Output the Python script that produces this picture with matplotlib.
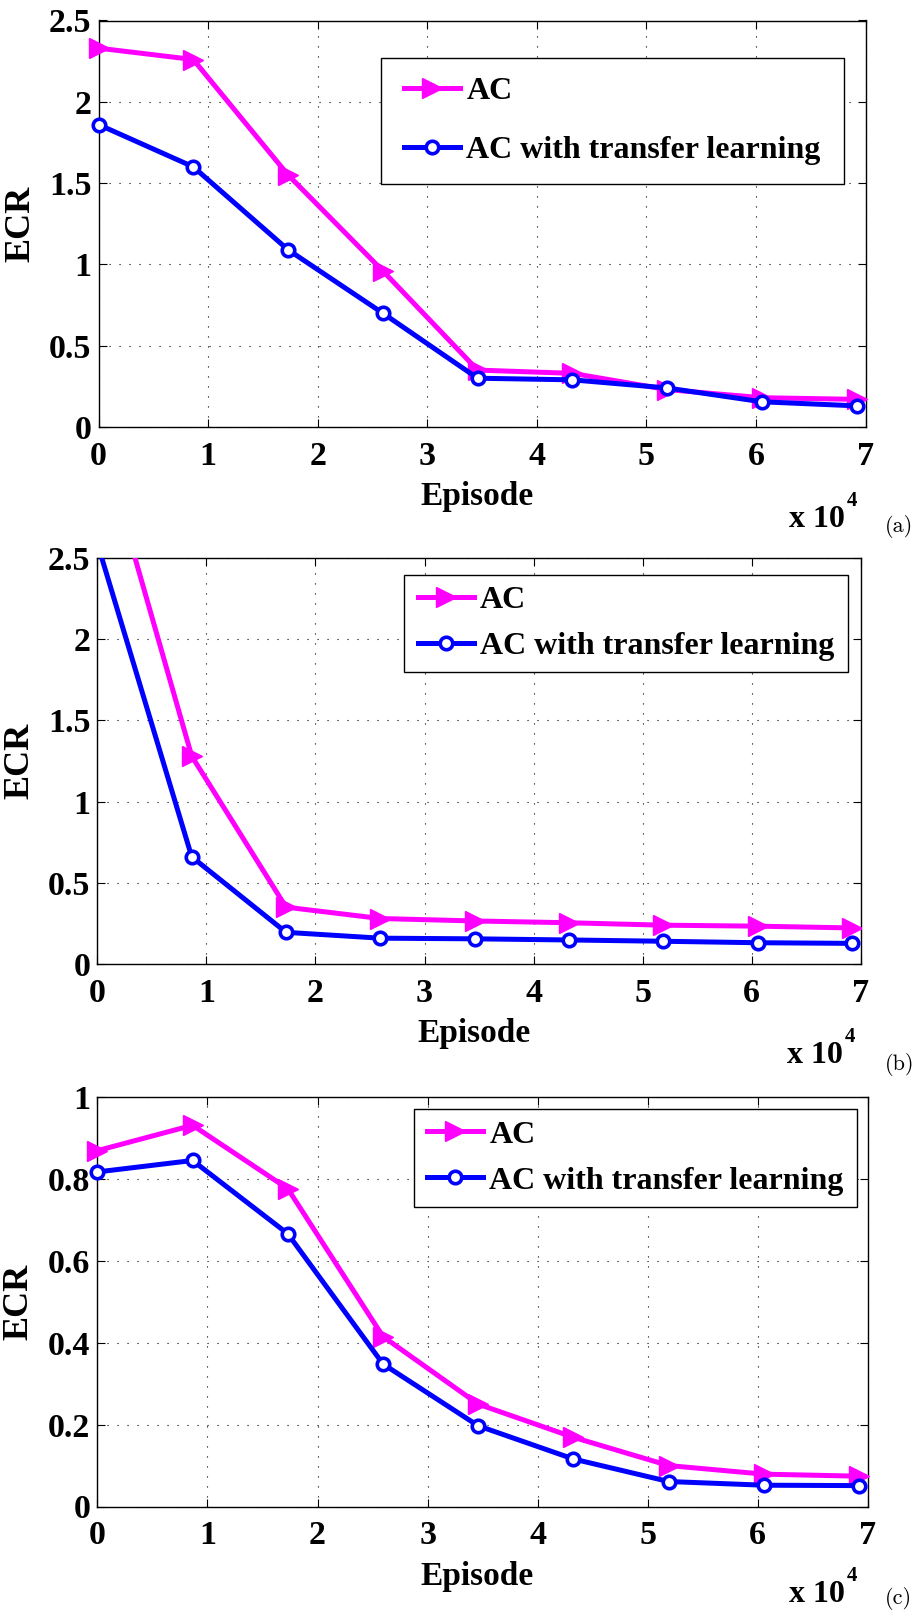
import numpy as np
import matplotlib
matplotlib.use("Agg")
import matplotlib.pyplot as plt
from matplotlib import font_manager

# Episodes (x axis shown in units of 10^4)
episodes = [0, 8650, 17300, 25950, 34600, 43250, 51900, 60550, 69200]

# ECR values
ecr_ac_a = [2.33, 2.26, 1.55, 0.96, 0.35, 0.33, 0.23, 0.18, 0.17]
ecr_tl_a = [1.86, 1.60, 1.09, 0.70, 0.30, 0.29, 0.24, 0.155, 0.13]
ecr_ac_b = [3.31, 1.28, 0.35, 0.28, 0.265, 0.254, 0.239, 0.233, 0.222]
ecr_tl_b = [2.59, 0.66, 0.195, 0.159, 0.155, 0.148, 0.14, 0.131, 0.127]
ecr_ac_c = [0.869, 0.931, 0.776, 0.415, 0.25, 0.169, 0.10, 0.079, 0.074]
ecr_tl_c = [0.817, 0.845, 0.666, 0.348, 0.197, 0.116, 0.061, 0.052, 0.051]

series_names = ["AC", "AC with transfer learning"]
panel_tags = ["(a)", "(b)", "(c)"]

xticks = [0, 1, 2, 3, 4, 5, 6, 7]
yticks_ab = [0, 0.5, 1, 1.5, 2, 2.5]
yticklabels_ab = ["0", "0.5", "1", "1.5", "2", "2.5"]
yticks_c = [0, 0.2, 0.4, 0.6, 0.8, 1]
yticklabels_c = ["0", "0.2", "0.4", "0.6", "0.8", "1"]

W, H = 923, 1621
DPI = 100
fig = plt.figure(figsize=(W / DPI, H / DPI), dpi=DPI)

# pick a Times-like serif that is actually installed
names = {f.name for f in font_manager.fontManager.ttflist}
font = "DejaVu Serif"
for cand in ["Liberation Serif", "Times New Roman", "Nimbus Roman", "DejaVu Serif"]:
    if cand in names:
        font = cand
        break

LEG_FS = 23


def px(x, y):
    # pixel position (from top-left) -> figure fraction
    return x / W, 1 - y / H


# axes boxes in pixels: left, top, right, bottom
boxes = [(98.5, 20.5, 865.5, 427), (97.4, 558, 860.7, 964), (97.4, 1097, 867.8, 1506.5)]
# legend frames in pixels: left, top, right, bottom
legend_boxes = [(381, 58, 844, 183.5), (404, 575, 848, 672), (414, 1109, 857, 1206.7)]
legend_spacing = [0.92, 0.54, 0.52]
data = [(ecr_ac_a, ecr_tl_a), (ecr_ac_b, ecr_tl_b), (ecr_ac_c, ecr_tl_c)]
ylims = [(0, 2.5), (0, 2.5), (0, 1)]
yticks = [yticks_ab, yticks_ab, yticks_c]
ytlabels = [yticklabels_ab, yticklabels_ab, yticklabels_c]
clip = [False, True, False]

x = np.array(episodes) / 1e4
axes, legends = [], []

for i in range(3):
    l, t, r, b = boxes[i]
    ax = fig.add_axes([l / W, 1 - b / H, (r - l) / W, (b - t) / H])
    ac, tl = data[i]
    ax.plot(x, ac, color="#FF00FF", lw=3.6, marker=">", ms=15, mew=1,
            label=series_names[0], clip_on=clip[i], zorder=3)
    ax.plot(x, tl, color="#0000FF", lw=3.6, marker="o", ms=9, mew=2.6,
            mfc="white", label=series_names[1], clip_on=clip[i], zorder=4)

    ax.set_xlim(0, 7)
    ax.set_ylim(*ylims[i])
    ax.set_xticks(xticks)
    ax.set_xticklabels([str(v) for v in xticks])
    ax.set_yticks(yticks[i])
    ax.set_yticklabels(ytlabels[i])
    ax.grid(True, color="black", lw=0.8, linestyle=(0, (1, 8)))
    ax.tick_params(direction="in", length=6, width=0.8, top=True, right=True,
                   labelsize=24.5)
    ax.tick_params(axis="x", pad=10)
    ax.tick_params(axis="y", pad=5)
    for lab in ax.get_xticklabels() + ax.get_yticklabels():
        lab.set_fontfamily(font)
        lab.set_fontweight("bold")
    for s in ax.spines.values():
        s.set_linewidth(1.0)

    ax.set_xlabel("Episode", fontsize=24, fontfamily=font, fontweight="bold")
    ax.xaxis.set_label_coords(0.493, -0.133)
    ax.set_ylabel("ECR", fontsize=26, fontfamily=font, fontweight="bold")
    ax.yaxis.set_label_coords(-0.08, 0.5)

    leg = ax.legend(loc="upper left", bbox_to_anchor=(0.4, 0.95),
                    borderaxespad=0, fancybox=False, framealpha=1,
                    edgecolor="black", handlelength=1.75, handletextpad=0.2,
                    borderpad=0, labelspacing=legend_spacing[i],
                    prop={"family": font, "weight": "bold", "size": LEG_FS})
    leg.get_frame().set_linewidth(1.0)
    axes.append(ax)
    legends.append(leg)

    # "x 10^4" multiplier and panel tag
    bx = [845, 843, 845][i]
    by = [527, 1063, 1602][i]
    fig.text(*px(bx, by), "x 10", ha="right", va="baseline", fontsize=23,
             fontfamily=font, fontweight="bold")
    fig.text(*px(bx + 2, by - 21), "4", ha="left", va="baseline", fontsize=15,
             fontfamily=font, fontweight="bold")
    tag_y = [526.5, 1064, 1598.5][i]
    fig.text(*px(885, tag_y), panel_tags[i], ha="left", va="center",
             fontsize=16, fontfamily="cmr10")

# size the legend frames: separate horizontal / vertical padding
fig.canvas.draw()
fs_px = LEG_FS * DPI / 72
for i, (ax, leg) in enumerate(zip(axes, legends)):
    l, t, r, b = boxes[i]
    fl, ft, fr, fb = legend_boxes[i]
    bb = leg.get_window_extent()
    hp = max((fr - fl - bb.width) / 2, 1.0)
    vp = max((fb - ft - bb.height) / 2, 1.0)
    frame = leg.get_frame()
    frame.set_boxstyle("square", pad=hp / fs_px)
    frame.set_mutation_aspect(vp / hp)
    leg.set_bbox_to_anchor(((fl + hp - l) / (r - l), (b - ft - vp) / (b - t)),
                           transform=ax.transAxes)

fig.savefig("out.png", dpi=DPI)
